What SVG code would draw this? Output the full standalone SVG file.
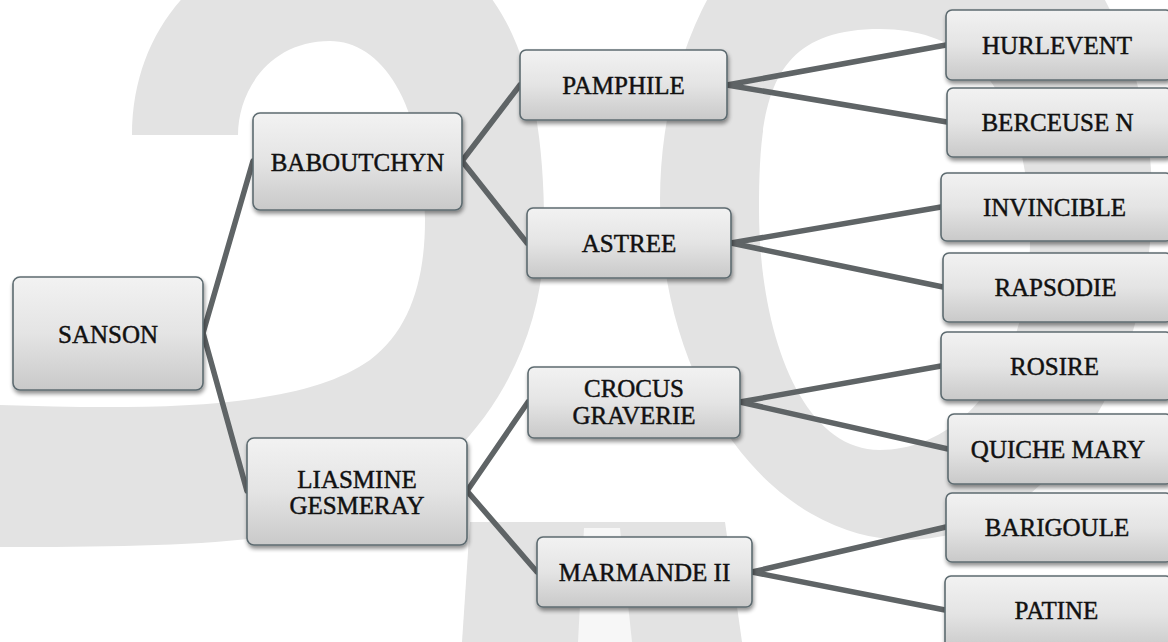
<svg xmlns="http://www.w3.org/2000/svg" width="1168" height="642" viewBox="0 0 1168 642">
<defs>
<linearGradient id="boxfill" x1="0" y1="0" x2="0" y2="1">
<stop offset="0" stop-color="#f2f2f2"/>
<stop offset="0.5" stop-color="#e4e4e4"/>
<stop offset="1" stop-color="#c9c9c9"/>
</linearGradient>
<filter id="shadow" x="-10%" y="-10%" width="130%" height="140%">
<feGaussianBlur in="SourceAlpha" stdDeviation="2"/>
<feOffset dx="1" dy="3" result="b"/>
<feComponentTransfer><feFuncA type="linear" slope="0.45"/></feComponentTransfer>
<feMerge><feMergeNode/><feMergeNode in="SourceGraphic"/></feMerge>
</filter>
<style>
.box{fill:url(#boxfill);stroke:#5d6b70;stroke-width:1.6;filter:url(#shadow)}
.lbl{font-family:"Liberation Serif","Times New Roman",serif;font-size:25px;fill:#111;stroke:#111;stroke-width:0.45;text-anchor:middle}
.wm{fill:#e3e3e3}
.conn{stroke:#5f6466;stroke-width:5.5;fill:none;stroke-linecap:round}
</style>
</defs>
<rect width="1168" height="642" fill="#ffffff"/>
<g id="watermark">
<path class="wm" d="M132,135 C132,10 230,-70 340,-70 C490,-70 548,40 544,246 C540,360 470,470 360,515 C280,545 160,547 0,547 L0,405 C150,410 300,410 370,360 C410,330 425,280 425,220 C425,100 380,41 330,41 C270,41 238,90 238,135 Z"/>
<path class="wm" fill-rule="evenodd" d="M660,200 A246,340 0 1 1 1152,200 A246,340 0 1 1 660,200 Z M759,210 C759,100 770,29 880,29 C990,29 1030,120 1030,240 C1030,370 960,450 880,450 C800,450 759,330 759,210 Z"/>
<path class="wm" d="M470,522 L725,522 L742,642 L462,642 Z"/>
<path fill="#f7f7f7" d="M584,528 L620,528 L632,642 L578,642 Z"/>
</g>
<g id="connectors">
<line class="conn" x1="203" y1="333" x2="253" y2="161"/>
<line class="conn" x1="203" y1="333" x2="247" y2="491"/>
<line class="conn" x1="462" y1="161" x2="520" y2="85"/>
<line class="conn" x1="462" y1="161" x2="527" y2="243"/>
<line class="conn" x1="467" y1="491" x2="528" y2="402"/>
<line class="conn" x1="467" y1="491" x2="537" y2="572"/>
<line class="conn" x1="727" y1="85" x2="946" y2="45"/>
<line class="conn" x1="727" y1="85" x2="947" y2="122"/>
<line class="conn" x1="731" y1="243" x2="941" y2="207"/>
<line class="conn" x1="731" y1="243" x2="943" y2="287"/>
<line class="conn" x1="740" y1="402" x2="941" y2="366"/>
<line class="conn" x1="740" y1="402" x2="948" y2="449"/>
<line class="conn" x1="752" y1="572" x2="946" y2="527"/>
<line class="conn" x1="752" y1="572" x2="945" y2="610"/>
</g>
<g id="n-sanson"><rect class="box" x="13" y="277" width="190" height="113" rx="7"/><text class="lbl" x="108" y="343">SANSON</text></g>
<g id="n-baboutchyn"><rect class="box" x="253" y="113" width="209" height="97" rx="7"/><text class="lbl" x="357.5" y="171">BABOUTCHYN</text></g>
<g id="n-liasmine"><rect class="box" x="247" y="438" width="220" height="107" rx="7"/><text class="lbl" x="357" y="488">LIASMINE</text><text class="lbl" x="357" y="514">GESMERAY</text></g>
<g id="n-pamphile"><rect class="box" x="520" y="50" width="207" height="70" rx="6"/><text class="lbl" x="623.5" y="94">PAMPHILE</text></g>
<g id="n-astree"><rect class="box" x="527" y="208" width="204" height="70" rx="6"/><text class="lbl" x="629" y="252">ASTREE</text></g>
<g id="n-crocus"><rect class="box" x="528" y="367" width="212" height="71" rx="6"/><text class="lbl" x="634" y="397">CROCUS</text><text class="lbl" x="634" y="424">GRAVERIE</text></g>
<g id="n-marmande"><rect class="box" x="537" y="537" width="215" height="70" rx="6"/><text class="lbl" x="644.5" y="581">MARMANDE II</text></g>
<g id="n-hurlevent"><rect class="box" x="946" y="10" width="226" height="70" rx="6"/><text class="lbl" x="1057" y="54">HURLEVENT</text></g>
<g id="n-berceuse"><rect class="box" x="947" y="88" width="225" height="69" rx="6"/><text class="lbl" x="1057.5" y="131">BERCEUSE N</text></g>
<g id="n-invincible"><rect class="box" x="941" y="173" width="231" height="68" rx="6"/><text class="lbl" x="1054.5" y="216">INVINCIBLE</text></g>
<g id="n-rapsodie"><rect class="box" x="943" y="253" width="229" height="69" rx="6"/><text class="lbl" x="1055.5" y="296">RAPSODIE</text></g>
<g id="n-rosire"><rect class="box" x="941" y="332" width="231" height="68" rx="6"/><text class="lbl" x="1054.5" y="375">ROSIRE</text></g>
<g id="n-quiche"><rect class="box" x="948" y="414" width="224" height="70" rx="6"/><text class="lbl" x="1058" y="458">QUICHE MARY</text></g>
<g id="n-barigoule"><rect class="box" x="946" y="493" width="226" height="69" rx="6"/><text class="lbl" x="1057" y="536">BARIGOULE</text></g>
<g id="n-patine"><rect class="box" x="945" y="576" width="227" height="75" rx="6"/><text class="lbl" x="1056.5" y="619">PATINE</text></g>
</svg>
